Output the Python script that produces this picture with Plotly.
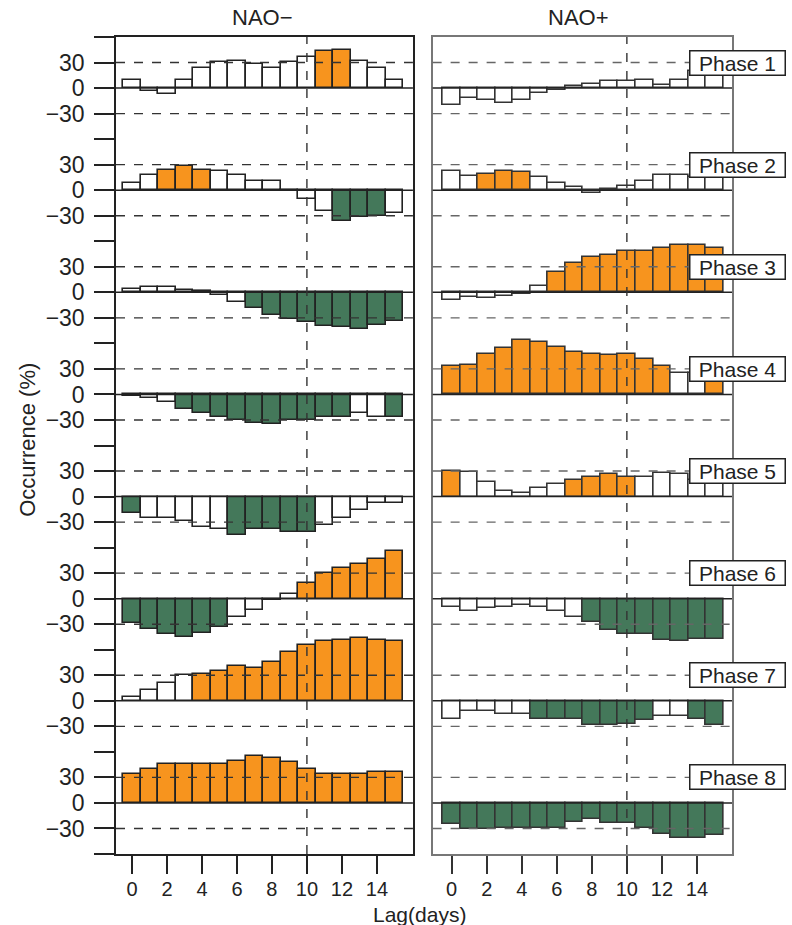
import plotly.graph_objects as go

lags = list(range(16))
phases = ["Phase 1", "Phase 2", "Phase 3", "Phase 4", "Phase 5", "Phase 6", "Phase 7", "Phase 8"]

# NAO- occurrence anomalies (%) per phase, lag 0..15
nao_minus = [
    [9, -4, -7, 9, 24, 31, 32, 28, 24, 31, 37, 43, 45, 32, 24, 9],
    [8, 18, 24, 29, 24, 22, 18, 11, 11, -1, -10, -25, -36, -32, -30, -27],
    [4, 6, 6, 3, 1.5, -3, -11, -19, -27, -31, -35, -39, -41, -43, -38, -34],
    [-2, -4, -9, -17, -22, -26, -30, -34, -35, -30, -30, -26, -26, -22, -26, -26],
    [-19, -25, -25, -29, -36, -38, -45, -38, -38, -42, -42, -33, -25, -16, -8, -8],
    [-29, -36, -42, -45, -40, -33, -22, -13, -2, 6, 19, 30, 36, 41, 47, 56],
    [4, 13, 21, 30, 32, 35, 41, 39, 46, 57, 65, 70, 72, 74, 72, 70],
    [34, 40, 46, 46, 46, 46, 49, 55, 53, 48, 40, 34, 34, 34, 36, 36],
]
# significance: o = significant positive, g = significant negative, w = not significant
nao_minus_sig = [
    "wwwwwwwwwwwoowww",
    "wwooowwwwwwwgggw",
    "wwwwwwwggggggggg",
    "wwwggggggggggwwg",
    "gwwwwwgggggwwwww",
    "ggggggwwwwoooooo",
    "wwwwoooooooooooo",
    "oooooooooooooooo",
]

# NAO+ occurrence anomalies (%) per phase, lag 0..15
nao_plus = [
    [-20, -12, -14, -18, -14, -6, -2, 3, 5, 8, 8, 9, 4, 9, 20, 18],
    [22, 17, 19, 22, 21, 15, 8, 4, -3, 1, 5, 11, 18, 18, 16, 16],
    [-9, -5, -7, -4, -2, 8, 24, 35, 42, 44, 48, 49, 52, 56, 56, 52],
    [33, 35, 47, 55, 64, 62, 56, 50, 47, 46, 47, 42, 33, 25, 25, 30],
    [30, 29, 17, 7, 4, 10, 15, 19, 23, 26, 23, 23, 28, 26, 20, 20],
    [-10, -15, -11, -10, -7, -10, -15, -21, -27, -37, -41, -41, -48, -50, -47, -47],
    [-21, -12, -12, -15, -16, -21, -21, -21, -29, -29, -27, -22, -18, -18, -21, -29],
    [-25, -31, -31, -30, -30, -30, -30, -22, -19, -24, -24, -30, -37, -41, -41, -38],
]
nao_plus_sig = [
    "wwwwwwwwwwwwwwww",
    "wwooowwwwwwwwwww",
    "wwwwwwoooooooooo",
    "ooooooooooooowwo",
    "owwwwwwoooowwwww",
    "wwwwwwwwgggggggg",
    "wwwwwgggggggwwgg",
    "gggggggggggggggg",
]

x_ticks = [0, 2, 4, 6, 8, 10, 12, 14]
y_tick_values = [30, 0, -30]
y_tick_labels = ["30", "0", "\u221230"]
row_span = 120
ref_lag = 10

COLORS = {"o": "#F7941E", "g": "#44785A", "w": "#FFFFFF"}
FONT = "Liberation Sans, Arial, sans-serif"
TXT = "#222222"

fig = go.Figure()

offsets = [-row_span * k for k in range(len(phases))]

for col, (data, sig, xa, ya, lc) in enumerate([
    (nao_minus, nao_minus_sig, "x", "y", "#222222"),
    (nao_plus, nao_plus_sig, "x2", "y2", "#333333"),
]):
    for k, (vals, s) in enumerate(zip(data, sig)):
        fig.add_trace(go.Bar(
            x=lags, y=vals, base=[offsets[k]] * len(vals), width=1.0,
            marker=dict(color=[COLORS[c] for c in s], line=dict(color=lc, width=1.6)),
            xaxis=xa, yaxis=ya, showlegend=False, hoverinfo="skip",
        ))

shapes = []
for col, (xa, ya, dcol) in enumerate([("x", "y", "#333333"), ("x2", "y2", "#666666")]):
    for off in offsets:
        shapes.append(dict(type="line", xref=f"{xa} domain", yref=ya, x0=0, x1=1,
                           y0=off, y1=off, line=dict(color="#222222", width=1.5), layer="above"))
        for v in (30, -30):
            shapes.append(dict(type="line", xref=f"{xa} domain", yref=ya, x0=0, x1=1,
                               y0=off + v, y1=off + v,
                               line=dict(color=dcol, width=1.4, dash="dash"), layer="above"))
    shapes.append(dict(type="line", xref=xa, yref=f"{ya} domain", x0=ref_lag, x1=ref_lag,
                       y0=0, y1=1, line=dict(color="#333333", width=1.4, dash="dash"), layer="above"))

# y ticks
tickvals, ticktext = [], []
for off in offsets:
    for v, t in zip(y_tick_values, y_tick_labels):
        tickvals.append(off + v)
        ticktext.append(t)
for k in range(len(phases) + 1):
    tickvals.append(60 - row_span * k)
    ticktext.append("")

y_range = [offsets[-1] - 60, 60]

annotations = []
for k, p in enumerate(phases):
    annotations.append(dict(
        text=p, xref="paper", yref="y", x=1.0097, y=offsets[k] + 30, showarrow=False,
        font=dict(family=FONT, size=21, color=TXT), bgcolor="white",
        bordercolor="#222222", borderwidth=1.5, borderpad=2, width=90, height=19,
        xanchor="center", yanchor="middle",
    ))
annotations += [
    dict(text="NAO\u2212", xref="paper", yref="paper", x=0.2386, y=1.0233, showarrow=False,
         font=dict(family=FONT, size=22, color=TXT), xanchor="center", yanchor="middle"),
    dict(text="NAO+", xref="paper", yref="paper", x=0.7516, y=1.0233, showarrow=False,
         font=dict(family=FONT, size=22, color=TXT), xanchor="center", yanchor="middle"),
    dict(text="Occurrence (%)", xref="paper", yref="paper", x=-0.1429, y=0.507, showarrow=False,
         textangle=-90, font=dict(family=FONT, size=22, color=TXT), xanchor="center", yanchor="middle"),
    dict(text="Lag(days)", xref="paper", yref="paper", x=0.4935, y=-0.0735, showarrow=False,
         font=dict(family=FONT, size=21, color=TXT), xanchor="center", yanchor="middle"),
]

xcommon = dict(tickmode="array", tickvals=x_ticks, ticks="outside", ticklen=18, tickwidth=1.5,
               tickfont=dict(family=FONT, size=20, color=TXT), showgrid=False, zeroline=False,
               showline=True, mirror=True, linewidth=1.5, ticklabelstandoff=-2)

fig.update_layout(
    width=792, height=925,
    margin=dict(l=116, r=60, t=37, b=71),
    paper_bgcolor="white", plot_bgcolor="white",
    barmode="overlay", bargap=0,
    xaxis=dict(domain=[0, 0.482], range=[-0.914, 16.06], anchor="y", linecolor="#222222",
               tickcolor="#222222", **xcommon),
    xaxis2=dict(domain=[0.514, 1.0], range=[-1.086, 16.0], anchor="y2", linecolor="#777777",
                tickcolor="#333333", **xcommon),
    yaxis=dict(range=y_range, tickmode="array", tickvals=tickvals, ticktext=ticktext,
               ticks="outside", ticklen=20, tickwidth=1.5, tickcolor="#222222",
               tickfont=dict(family=FONT, size=23, color=TXT), showgrid=False, zeroline=False,
               showline=True, mirror=True, linecolor="#222222", linewidth=1.5, anchor="x",
               ticklabelstandoff=5),
    yaxis2=dict(range=y_range, showticklabels=False, ticks="", showgrid=False, zeroline=False,
                showline=True, mirror=True, linecolor="#777777", linewidth=1.5, anchor="x2"),
    shapes=shapes,
    annotations=annotations,
)

fig.write_html("out.html")
